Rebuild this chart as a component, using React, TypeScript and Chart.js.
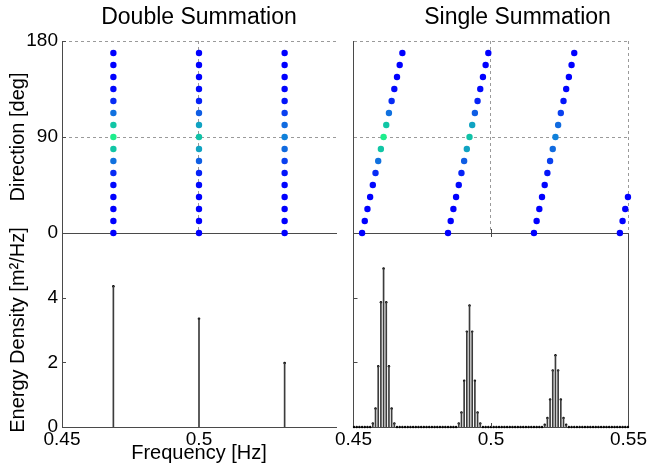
import React, { useEffect, useRef } from 'react';
import { Chart, registerables } from 'chart.js';

Chart.register(...registerables);

// ---------------- data ----------------
const directionsDeg = [0, 11.25, 22.5, 33.75, 45, 56.25, 67.5, 78.75, 90, 101.25, 112.5, 123.75, 135, 146.25, 157.5, 168.75];

// Double summation: one frequency per wave component
const doubleFreqsHz = [0.46875, 0.5, 0.53125];
const doubleEnergy = [4.35, 3.35, 1.98];

// Single summation: frequency bins of width 1/1024 Hz
const binWidthHz = 1 / 1024;
const firstBin = 461; // ~0.4502 Hz
const lastBin = 563; // ~0.5498 Hz
const componentStartBins = [464, 496, 528, 560]; // bin of direction 0 deg for each component
const peakStartBins = [468, 500, 532];
const peak1Energy = [0.11, 0.57, 1.88, 3.86, 4.9, 3.86, 1.88, 0.57, 0.11];
const peak2Energy = [0.11, 0.45, 1.43, 2.95, 3.76, 2.95, 1.43, 0.45, 0.11];
const peak3Energy = [0.07, 0.28, 0.85, 1.75, 2.22, 1.75, 0.85, 0.28, 0.07];
const peakEnergies = [peak1Energy, peak2Energy, peak3Energy];

const freqTicks = [0.45, 0.5, 0.55];
const dirTicks = [0, 90, 180];
const energyTicks = [0, 2, 4];

// ---------------- styles ----------------
const FONT = "'Liberation Sans', Arial, Helvetica, sans-serif";
const AXIS = '#4a4a4a';
const GRID = '#9a9a9a';
const STEM = '#3c3c3c';
const DASH = [3, 3];
const TICK_SIZE = 19;
const LABEL_SIZE = 20;
const TITLE_SIZE = 23;

const colorStops: [number, number[]][] = [
  [0, [0, 0, 255]],
  [0.85, [10, 64, 240]],
  [1.5, [16, 96, 226]],
  [2.2, [16, 128, 220]],
  [3.0, [16, 165, 192]],
  [3.8, [16, 196, 166]],
  [4.9, [30, 238, 140]],
];

function energyColor(e: number) {
  if (e <= colorStops[0][0]) return `rgb(${colorStops[0][1].join(',')})`;
  for (let i = 1; i < colorStops.length; i++) {
    const [e1, c1] = colorStops[i];
    const [e0, c0] = colorStops[i - 1];
    if (e <= e1) {
      const t = (e - e0) / (e1 - e0);
      const c = c0.map((v, k) => Math.round(v + (c1[k] - v) * t));
      return `rgb(${c.join(',')})`;
    }
  }
  return `rgb(${colorStops[colorStops.length - 1][1].join(',')})`;
}

function energyAtBin(bin: number) {
  for (let j = 0; j < peakStartBins.length; j++) {
    const s = peakStartBins[j];
    const arr = peakEnergies[j];
    if (bin >= s && bin < s + arr.length) return arr[bin - s];
  }
  return 0;
}

const fmtFreq = (v: number) => String(+Number(v).toFixed(2));

const innerTicksPlugin = {
  id: 'innerTicks',
  afterDatasetsDraw(chart: any, _a: any, o: any) {
    const { ctx, chartArea: a } = chart;
    const xs = chart.scales.x;
    const ys = chart.scales.y;
    const L = 4;
    ctx.save();
    ctx.strokeStyle = AXIS;
    ctx.lineWidth = 1;
    ctx.setLineDash([]);
    ctx.beginPath();
    for (const v of o.xBottom || []) {
      const p = Math.round(xs.getPixelForValue(v)) + 0.5;
      ctx.moveTo(p, a.bottom);
      ctx.lineTo(p, a.bottom - L);
    }
    for (const v of o.xTop || []) {
      const p = Math.round(xs.getPixelForValue(v)) + 0.5;
      ctx.moveTo(p, a.top);
      ctx.lineTo(p, a.top + L);
    }
    for (const v of o.yLeft || []) {
      const p = Math.round(ys.getPixelForValue(v)) + 0.5;
      ctx.moveTo(a.left, p);
      ctx.lineTo(a.left + L, p);
    }
    ctx.stroke();
    ctx.restore();
  },
};

// vertical axis label drawn without width compression
const sideLabelPlugin = {
  id: 'sideLabel',
  afterDraw(chart: any, _a: any, o: any) {
    if (!o || !o.text) return;
    const { ctx, chartArea: a } = chart;
    ctx.save();
    ctx.translate(o.x, (a.top + a.bottom) / 2);
    ctx.rotate(-Math.PI / 2);
    ctx.font = `${o.size}px ${FONT}`;
    ctx.fillStyle = '#000';
    ctx.textAlign = 'center';
    ctx.textBaseline = 'middle';
    ctx.fillText(o.text, 0, 0);
    ctx.restore();
  },
};

const commonOpts = {
  animation: false as const,
  responsive: false,
  maintainAspectRatio: false,
  devicePixelRatio: 1,
  events: [] as any[],
};

const noLegend = { legend: { display: false }, tooltip: { enabled: false } };

function setW(w: number) {
  return (s: any) => {
    s.width = w;
  };
}
function setH(h: number) {
  return (s: any) => {
    s.height = h;
  };
}

function topLeftConfig(): any {
  return {
    type: 'scatter',
    data: {
      datasets: doubleFreqsHz.map((f, j) => ({
        data: directionsDeg.map((d) => ({ x: f, y: d })),
        pointRadius: 3.2,
        pointBorderWidth: 0,
        pointBackgroundColor: directionsDeg.map((_, k) => energyColor(energyAtBin(componentStartBins[j] + k))),
        clip: false,
      })),
    },
    plugins: [innerTicksPlugin],
    options: {
      ...commonOpts,
      layout: { padding: { left: 0, right: 4, top: 0, bottom: 17 } },
      plugins: {
        ...noLegend,
        title: {
          display: true,
          text: 'Double Summation',
          color: '#000',
          font: { family: FONT, size: TITLE_SIZE, weight: 'normal', lineHeight: 1 },
          padding: { top: 6.5, bottom: 11.5 },
        },
        innerTicks: { yLeft: [90, 180] },
      },
      scales: {
        x: {
          type: 'linear',
          min: freqTicks[0],
          max: freqTicks[2],
          afterFit: setH(0),
          afterBuildTicks: (s: any) => {
            s.ticks = freqTicks.map((v) => ({ value: v }));
          },
          ticks: { display: false },
          grid: {
            drawTicks: false,
            lineWidth: 1,
            color: (c: any) => (c.tick && c.tick.value > 0.54 ? 'rgba(0,0,0,0)' : GRID),
          },
          border: { color: AXIS, width: 1, dash: DASH },
        },
        y: {
          min: 0,
          max: 180,
          afterFit: setW(62),
          afterBuildTicks: (s: any) => {
            s.ticks = dirTicks.map((v) => ({ value: v }));
          },
          ticks: { padding: 4, color: '#000', font: { family: FONT, size: TICK_SIZE } },
          grid: { drawTicks: false, color: GRID, lineWidth: 1 },
          border: { color: AXIS, width: 1, dash: DASH },
          title: {
            display: true,
            text: 'Direction [deg]',
            color: '#000',
            font: { family: FONT, size: LABEL_SIZE },
            padding: { top: 6, bottom: 0 },
          },
        },
        // empty right-hand axis so the title centres over the plot
        y2: {
          position: 'right',
          min: 0,
          max: 180,
          afterFit: setW(62),
          ticks: { display: false },
          grid: { display: false, drawTicks: false },
          border: { display: false },
        },
      },
    },
  };
}

function topRightConfig(): any {
  return {
    type: 'scatter',
    data: {
      datasets: componentStartBins.map((sb) => {
        const pts: { x: number; y: number }[] = [];
        const cols: string[] = [];
        directionsDeg.forEach((d, k) => {
          const bin = sb + k;
          if (bin <= lastBin) {
            pts.push({ x: bin * binWidthHz, y: d });
            cols.push(energyColor(energyAtBin(bin)));
          }
        });
        return {
          data: pts,
          pointRadius: 3.2,
          pointBorderWidth: 0,
          pointBackgroundColor: cols,
          clip: false,
        };
      }),
    },
    plugins: [innerTicksPlugin],
    options: {
      ...commonOpts,
      layout: { padding: { left: 33.5, right: 0.5, top: 0, bottom: 17 } },
      plugins: {
        ...noLegend,
        title: {
          display: true,
          text: 'Single Summation',
          color: '#000',
          font: { family: FONT, size: TITLE_SIZE, weight: 'normal', lineHeight: 1 },
          padding: { top: 6.5, bottom: 11.5 },
        },
        innerTicks: { xBottom: [0.5] },
      },
      scales: {
        x: {
          type: 'linear',
          min: freqTicks[0],
          max: freqTicks[2],
          afterFit: setH(0),
          afterBuildTicks: (s: any) => {
            s.ticks = freqTicks.map((v) => ({ value: v }));
          },
          ticks: { display: false },
          grid: { drawTicks: false, color: GRID, lineWidth: 1 },
          border: { color: AXIS, width: 1, dash: DASH },
        },
        y: {
          min: 0,
          max: 180,
          afterFit: setW(0),
          afterBuildTicks: (s: any) => {
            s.ticks = dirTicks.map((v) => ({ value: v }));
          },
          ticks: { display: false },
          grid: { drawTicks: false, color: GRID, lineWidth: 1 },
          border: { color: AXIS, width: 1, dash: DASH },
        },
        y2: {
          position: 'right',
          min: 0,
          max: 180,
          afterFit: setW(53),
          ticks: { display: false },
          grid: { display: false, drawTicks: false },
          border: { display: false },
        },
      },
    },
  };
}

function bottomLeftConfig(): any {
  return {
    type: 'bar',
    data: {
      datasets: [
        {
          type: 'bar',
          data: doubleFreqsHz.map((f, i) => ({ x: f, y: doubleEnergy[i] })),
          backgroundColor: STEM,
          barThickness: 1,
        },
        {
          type: 'scatter',
          data: doubleFreqsHz.map((f, i) => ({ x: f, y: doubleEnergy[i] })),
          pointRadius: 1.3,
          pointBorderWidth: 0,
          pointBackgroundColor: '#000',
          showLine: false,
          clip: false,
        },
      ],
    },
    plugins: [innerTicksPlugin, sideLabelPlugin],
    options: {
      ...commonOpts,
      layout: { padding: { left: 0, right: 4, top: 33, bottom: 0 } },
      plugins: {
        ...noLegend,
        innerTicks: { yLeft: [2, 4] },
        sideLabel: { text: 'Energy Density [m²/Hz]', x: 18, size: LABEL_SIZE },
      },
      scales: {
        x: {
          type: 'linear',
          offset: false,
          min: freqTicks[0],
          max: freqTicks[2],
          afterFit: setH(49),
          afterBuildTicks: (s: any) => {
            s.ticks = freqTicks.map((v) => ({ value: v }));
          },
          ticks: {
            padding: 1,
            maxRotation: 0,
            autoSkip: false,
            color: '#000',
            font: { family: FONT, size: TICK_SIZE },
            callback: (v: any) => (Number(v) > 0.54 ? '' : fmtFreq(v)),
          },
          grid: { display: false, drawTicks: false, offset: false },
          border: { color: AXIS, width: 1 },
          title: {
            display: true,
            text: 'Frequency [Hz]',
            color: '#000',
            font: { family: FONT, size: LABEL_SIZE },
            padding: { top: 0, bottom: 11 },
          },
        },
        y: {
          min: 0,
          max: 6,
          afterFit: setW(62),
          afterBuildTicks: (s: any) => {
            s.ticks = energyTicks.map((v) => ({ value: v }));
          },
          ticks: { padding: 4, color: '#000', font: { family: FONT, size: TICK_SIZE } },
          grid: { display: false, drawTicks: false },
          border: { color: AXIS, width: 1 },
        },
      },
    },
  };
}

function bottomRightConfig(): any {
  const bins: number[] = [];
  for (let b = firstBin; b <= lastBin; b++) bins.push(b);
  const stems = bins.map((b) => ({ x: b * binWidthHz, y: energyAtBin(b) }));
  return {
    type: 'bar',
    data: {
      datasets: [
        {
          type: 'bar',
          data: stems,
          backgroundColor: STEM,
          barThickness: 1,
        },
        {
          type: 'scatter',
          data: stems,
          pointRadius: 1.2,
          pointBorderWidth: 0,
          pointBackgroundColor: '#000',
          showLine: false,
          clip: false,
        },
      ],
    },
    plugins: [innerTicksPlugin],
    options: {
      ...commonOpts,
      layout: { padding: { left: 33.5, right: 51.5, top: 33, bottom: 0 } },
      plugins: { ...noLegend, innerTicks: { yLeft: [2, 4], xTop: [0.5], xBottom: [0.5] } },
      scales: {
        x: {
          type: 'linear',
          offset: false,
          min: freqTicks[0],
          max: freqTicks[2],
          afterFit: setH(49),
          afterBuildTicks: (s: any) => {
            s.ticks = freqTicks.map((v) => ({ value: v }));
          },
          ticks: {
            padding: 1,
            maxRotation: 0,
            autoSkip: false,
            color: '#000',
            font: { family: FONT, size: TICK_SIZE },
            callback: (v: any) => fmtFreq(v),
          },
          grid: { display: false, drawTicks: false, offset: false },
          border: { color: AXIS, width: 1 },
        },
        y: {
          min: 0,
          max: 6,
          afterFit: setW(0),
          ticks: { display: false },
          grid: { display: false, drawTicks: false },
          border: { color: AXIS, width: 1 },
        },
        y2: {
          position: 'right',
          min: 0,
          max: 6,
          afterFit: setW(0),
          ticks: { display: false },
          grid: { display: false, drawTicks: false },
          border: { color: AXIS, width: 1 },
        },
      },
    },
  };
}

type Geo = { left: number; top: number; width: number; height: number };
const geoBL: Geo = { left: 0, top: 200, width: 340, height: 276 };
const geoBR: Geo = { left: 320, top: 200, width: 360, height: 276 };
const geoTL: Geo = { left: 0, top: 0, width: 402, height: 250 };
const geoTR: Geo = { left: 320, top: 0, width: 362, height: 250 };

export default function App() {
  const blRef = useRef<HTMLCanvasElement>(null);
  const brRef = useRef<HTMLCanvasElement>(null);
  const tlRef = useRef<HTMLCanvasElement>(null);
  const trRef = useRef<HTMLCanvasElement>(null);

  useEffect(() => {
    const charts = [
      new Chart(blRef.current as HTMLCanvasElement, bottomLeftConfig()),
      new Chart(brRef.current as HTMLCanvasElement, bottomRightConfig()),
      new Chart(tlRef.current as HTMLCanvasElement, topLeftConfig()),
      new Chart(trRef.current as HTMLCanvasElement, topRightConfig()),
    ];
    return () => charts.forEach((c) => c.destroy());
  }, []);

  const cv = (ref: any, g: Geo) => (
    <canvas
      ref={ref}
      width={g.width}
      height={g.height}
      style={{ position: 'absolute', left: g.left, top: g.top, width: g.width, height: g.height }}
    />
  );

  return (
    <div
      style={{
        position: 'fixed',
        left: 0,
        top: 0,
        width: 648,
        height: 476,
        overflow: 'hidden',
        background: '#fff',
      }}
    >
      {cv(blRef, geoBL)}
      {cv(brRef, geoBR)}
      {cv(tlRef, geoTL)}
      {cv(trRef, geoTR)}
    </div>
  );
}
